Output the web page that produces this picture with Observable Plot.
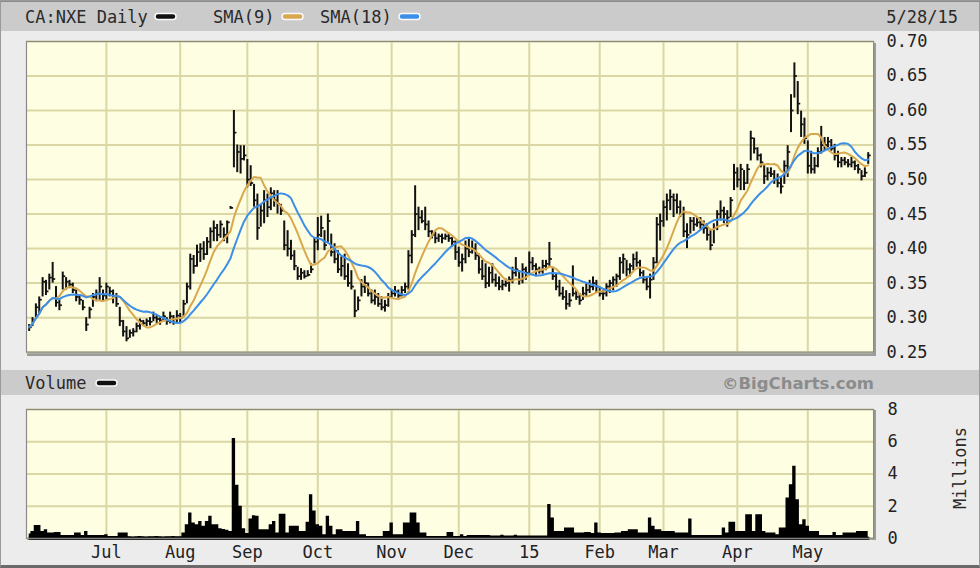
<!DOCTYPE html>
<html><head><meta charset="utf-8">
<script src="https://cdn.jsdelivr.net/npm/d3@7"></script>
<script src="https://cdn.jsdelivr.net/npm/@observablehq/plot@0.6"></script>
<style>
html,body{margin:0;padding:0;background:#ececec;}
#wrap{position:relative;width:980px;height:568px;background:#ececec;overflow:hidden;box-sizing:border-box;border:1px solid #9a9a9a;border-bottom:3px solid #6a6a6a;}
.band{position:absolute;left:0;width:980px;background:#cbcbcb;}
.chart{position:absolute;left:-1px;}
.shadow{position:absolute;background:#9c9c9c;}
#overlay{position:absolute;left:-1px;top:-1px;pointer-events:none;}
</style></head><body>
<div id="wrap">
  <div class="band" style="top:-1px;height:29px;border-top:2px solid #8a8a8a"></div>
  <div class="band" style="top:369px;height:25px"></div>
  <div class="shadow" style="left:26px;top:42px;width:849px;height:313px"></div>
  <div class="shadow" style="left:26px;top:409px;width:849px;height:130px"></div>
  <div id="price" class="chart" style="top:29px"></div>
  <div id="volume" class="chart" style="top:397px"></div>
  <svg id="overlay" width="980" height="568"></svg>
</div>
<script>
// ---- data ----
const ticker = "CA:NXE Daily";
const endDate = "5/28/15";
const monthLabels = ["Jul","Aug","Sep","Oct","Nov","Dec","15","Feb","Mar","Apr","May"];
const monthStarts = [23,45,65,86,108,128,149,170,189,211,232]; // trading-day index of first session
const priceTicks = [0.25,0.30,0.35,0.40,0.45,0.50,0.55,0.60,0.65,0.70];
const volumeTicks = [0,2,4,6,8];

const highs = [
 .290,.300,.320,.330,.358,.354,.363,.380,.345,.325,
 .366,.358,.354,.350,.340,.333,.325,.300,.315,.335,
 .340,.358,.340,.350,.344,.340,.335,.315,.296,.287,
 .282,.284,.292,.298,.296,.298,.300,.308,.303,.300,
 .308,.300,.308,.303,.310,.306,.325,.350,.392,.390,
 .405,.407,.410,.416,.430,.440,.435,.440,.430,.440,
 .461,.600,.550,.549,.549,.529,.520,.493,.479,.464,
 .484,.479,.488,.484,.484,.464,.440,.426,.412,.397,
 .373,.371,.368,.368,.378,.416,.445,.447,.426,.450,
 .421,.407,.397,.388,.392,.378,.368,.340,.330,.355,
 .360,.350,.340,.340,.335,.330,.325,.335,.340,.345,
 .340,.345,.350,.397,.426,.491,.460,.455,.460,.440,
 .426,.424,.421,.421,.421,.421,.416,.411,.402,.392,
 .411,.416,.411,.407,.392,.383,.378,.373,.378,.363,
 .359,.354,.356,.359,.373,.387,.368,.378,.373,.395,
 .387,.378,.373,.383,.383,.409,.373,.363,.354,.344,
 .339,.335,.375,.339,.335,.344,.349,.354,.359,.354,
 .344,.339,.349,.354,.359,.363,.387,.392,.383,.378,
 .392,.395,.383,.368,.359,.363,.387,.445,.450,.469,
 .479,.485,.479,.479,.469,.460,.436,.445,.445,.445,
 .445,.440,.436,.426,.436,.455,.469,.460,.455,.474,
 .522,.517,.522,.513,.522,.570,.560,.546,.537,.522,
 .517,.517,.513,.508,.503,.527,.549,.623,.669,.642,
 .599,.589,.556,.541,.532,.546,.577,.561,.561,.558,
 .551,.541,.532,.532,.529,.532,.527,.522,.513,.517,
 .539];
const lows = [
 .280,.287,.300,.306,.330,.332,.340,.350,.315,.310,
 .340,.340,.342,.335,.323,.318,.310,.280,.298,.315,
 .323,.325,.323,.325,.330,.320,.315,.287,.272,.265,
 .270,.272,.278,.282,.287,.287,.288,.294,.291,.289,
 .294,.289,.291,.289,.291,.291,.300,.320,.340,.363,
 .373,.380,.383,.390,.400,.410,.410,.415,.410,.407,
 .457,.517,.510,.508,.527,.488,.490,.460,.412,.431,
 .436,.445,.455,.460,.450,.448,.397,.388,.383,.368,
 .354,.354,.356,.359,.364,.378,.397,.416,.397,.407,
 .388,.378,.364,.359,.354,.344,.340,.300,.310,.330,
 .335,.330,.320,.318,.315,.310,.308,.315,.328,.330,
 .328,.330,.335,.340,.378,.416,.426,.436,.426,.416,
 .414,.407,.409,.407,.412,.409,.402,.383,.373,.366,
 .378,.387,.392,.383,.363,.354,.342,.344,.349,.344,
 .339,.339,.344,.337,.349,.359,.347,.349,.354,.363,
 .368,.359,.363,.363,.368,.373,.354,.339,.330,.325,
 .311,.315,.330,.325,.318,.325,.330,.335,.339,.335,
 .330,.325,.330,.335,.339,.344,.354,.363,.359,.359,
 .368,.373,.359,.349,.339,.327,.354,.378,.411,.431,
 .440,.455,.445,.450,.445,.416,.400,.421,.425,.431,
 .428,.421,.411,.397,.407,.426,.440,.436,.431,.445,
 .484,.488,.484,.484,.493,.527,.537,.527,.517,.493,
 .498,.503,.493,.488,.479,.493,.503,.568,.618,.594,
 .561,.551,.508,.508,.508,.517,.537,.541,.546,.541,
 .527,.517,.517,.520,.517,.517,.513,.508,.498,.503,
 .522];
const closes = [
 .286,.296,.315,.326,.352,.338,.358,.356,.322,.318,
 .360,.352,.348,.340,.330,.326,.315,.290,.312,.330,
 .335,.345,.332,.345,.338,.330,.320,.295,.280,.270,
 .278,.280,.288,.295,.292,.295,.294,.300,.298,.296,
 .302,.295,.302,.298,.303,.300,.320,.345,.385,.375,
 .395,.400,.392,.410,.425,.430,.420,.435,.420,.438,
 .459,.568,.540,.530,.535,.500,.495,.470,.430,.455,
 .470,.460,.480,.470,.465,.455,.405,.400,.390,.375,
 .360,.365,.360,.362,.370,.410,.420,.430,.405,.440,
 .395,.385,.370,.375,.360,.350,.345,.310,.325,.345,
 .350,.335,.325,.330,.320,.315,.318,.330,.335,.338,
 .332,.340,.345,.390,.420,.450,.445,.440,.435,.425,
 .420,.415,.418,.415,.418,.415,.410,.395,.380,.385,
 .400,.395,.400,.390,.370,.360,.350,.365,.355,.350,
 .345,.348,.350,.355,.365,.370,.355,.370,.365,.380,
 .375,.370,.368,.375,.378,.385,.360,.345,.335,.330,
 .320,.325,.335,.330,.325,.335,.340,.345,.350,.345,
 .335,.335,.345,.350,.355,.360,.380,.385,.370,.375,
 .385,.380,.365,.355,.345,.355,.380,.435,.440,.460,
 .470,.475,.470,.460,.450,.425,.420,.440,.435,.438,
 .435,.430,.420,.405,.430,.450,.455,.450,.445,.470,
 .510,.500,.515,.495,.515,.560,.545,.535,.525,.505,
 .510,.508,.500,.495,.490,.520,.540,.600,.650,.610,
 .580,.560,.520,.515,.520,.540,.550,.550,.555,.545,
 .535,.525,.528,.525,.522,.525,.520,.515,.505,.510,
 .535];
const volumes = [ // millions of shares
 .27,.43,.8,.8,.43,.54,.33,.33,.37,.37,
 .17,.17,.17,.17,.33,.33,.17,.43,.17,.17,
 .17,.17,.17,.23,.12,.12,.12,.33,.33,.33,
 .1,.08,.1,.12,.1,.08,.1,.1,.12,.1,
 .08,.1,.1,.12,.1,.1,.33,.85,1.57,.95,
 .85,1.05,.75,1.05,1.37,.85,.85,.6,.55,.5,
 .43,6.2,3.3,2.0,.6,.3,1.2,1.4,1.37,.54,
 .54,.54,.85,1.05,.33,1.5,1.5,.33,.75,.75,
 .75,.43,.43,1.0,2.7,1.7,.85,.75,.23,1.37,
 .75,.23,.54,.54,.43,.43,.43,.43,1.05,.23,
 .23,.12,.12,.12,.12,.12,.43,.43,.95,.23,
 .23,.23,.95,.95,1.57,1.57,.95,.33,.33,.12,
 .12,.12,.12,.12,.12,.37,.37,.12,.12,.23,
 .12,.17,.17,.17,.17,.17,.17,.17,.15,.15,
 .15,.2,.15,.15,.15,.2,.15,.15,.15,.15,
 .15,.15,.15,.15,.15,2.1,1.27,.43,.43,.43,
 .64,.64,.64,.33,.33,.33,.37,.37,.3,.95,
 .33,.3,.3,.3,.3,.33,.33,.43,.43,.54,
 .54,.54,.33,.33,.33,1.27,.75,.54,.54,.43,
 .43,.43,.43,.33,.33,.33,.33,1.2,.17,.17,
 .17,.17,.17,.17,.17,.17,.17,.64,.33,1.0,
 1.0,.43,.43,.43,1.47,1.47,.43,1.47,1.47,.43,
 .33,.33,.33,.23,.64,.64,2.5,3.33,4.47,2.4,
 .85,1.16,.75,.43,.43,.43,.17,.17,.17,.17,
 .37,.17,.17,.33,.33,.33,.33,.43,.43,.43,
 .43];

// ---- styling ----
const CREAM = "#fefee2", GRID = "#dad7a4";
const SMA9 = "#d9a84e", SMA18 = "#3c8ee8";
const FONT = "DejaVu Sans Mono, monospace";

const days = closes.map((c, i) => ({i, high: highs[i], low: lows[i], close: c, vol: volumes[i]}));
const xDomain = [-0.8, 251.6];

const price = Plot.plot({
  width: 980, height: 325,
  marginTop: 11, marginBottom: 3, marginLeft: 26, marginRight: 106,
  style: {background: "transparent", fontFamily: FONT, fontSize: "17px", color: "#222", overflow: "visible"},
  x: {domain: xDomain, axis: null},
  y: {domain: [0.25, 0.70], axis: "right", ticks: priceTicks, tickFormat: d3.format(".2f"),
      tickSize: 0, tickPadding: 13, label: null},
  marks: [
    Plot.frame({fill: CREAM}),
    Plot.ruleY(priceTicks, {stroke: GRID, strokeWidth: 2}),
    Plot.ruleX(monthStarts, {stroke: GRID, strokeWidth: 2}),
    Plot.ruleX(days, {x: "i", y1: "low", y2: "high", stroke: "#111", strokeWidth: 2}),
    Plot.ruleY(days, {y: "close", x1: "i", x2: d => d.i + 0.9, stroke: "#111", strokeWidth: 1.7}),
    Plot.lineY(days, Plot.windowY({k: 9, anchor: "end"}, {x: "i", y: "close", stroke: SMA9, strokeWidth: 2})),
    Plot.lineY(days, Plot.windowY({k: 18, anchor: "end"}, {x: "i", y: "close", stroke: SMA18, strokeWidth: 2})),
    Plot.frame({stroke: "#8a8a8a", strokeWidth: 1.2})
  ]
});
document.getElementById("price").appendChild(price);

const volume = Plot.plot({
  width: 980, height: 171,
  marginTop: 11, marginBottom: 31, marginLeft: 26, marginRight: 106,
  style: {background: "transparent", fontFamily: FONT, fontSize: "17px", color: "#222", overflow: "visible"},
  x: {domain: xDomain, ticks: monthStarts, tickFormat: d => monthLabels[monthStarts.indexOf(d)],
      tickSize: 0, tickPadding: 8, label: null},
  y: {domain: [0, 8], axis: "right", ticks: volumeTicks, tickFormat: d3.format("d"),
      tickSize: 0, tickPadding: 14, label: null},
  marks: [
    Plot.frame({fill: CREAM}),
    Plot.ruleY(volumeTicks, {stroke: GRID, strokeWidth: 2}),
    Plot.ruleX(monthStarts, {stroke: GRID, strokeWidth: 2}),
    Plot.areaY(days, {x: "i", y: "vol", curve: "step", fill: "#000"}),
    Plot.ruleY([0], {x1: 0, x2: 250.5, stroke: "#000", strokeWidth: 3}),
    Plot.frame({stroke: "#8a8a8a", strokeWidth: 1.2})
  ]
});
document.getElementById("volume").appendChild(volume);

// ---- header texts and legend ----
const ov = d3.select("#overlay");
function label(x, y, t, anchor = "start") {
  ov.append("text").attr("x", x).attr("y", y).attr("text-anchor", anchor)
    .attr("font-family", FONT).attr("font-size", 17).attr("fill", "#2a2a2a").text(t);
}
function swatch(x, y, color) {
  ov.append("rect").attr("x", x).attr("y", y).attr("width", 21).attr("height", 6).attr("rx", 3)
    .attr("fill", color).attr("stroke", "#fafafa").attr("stroke-width", 1.5);
}
label(25, 23, ticker); swatch(155, 13.5, "#111");
label(213, 23, "SMA(9)"); swatch(282, 13.5, SMA9);
label(320, 23, "SMA(18)"); swatch(399, 13.5, SMA18);
label(958, 23, endDate, "end");
label(25, 389, "Volume"); swatch(96, 380, "#111");
ov.append("text").attr("x", 874).attr("y", 389).attr("text-anchor", "end")
  .attr("font-family", "DejaVu Sans, sans-serif").attr("font-weight", "bold").attr("font-size", 16.5)
  .attr("fill", "#8c8c8c").text("\u00A9BigCharts.com");
ov.append("text").attr("transform", "translate(960,468) rotate(-90)").attr("text-anchor", "middle")
  .attr("dy", "0.35em").attr("font-family", FONT).attr("font-size", 17).attr("fill", "#2a2a2a").text("Millions");
</script>
</body></html>
